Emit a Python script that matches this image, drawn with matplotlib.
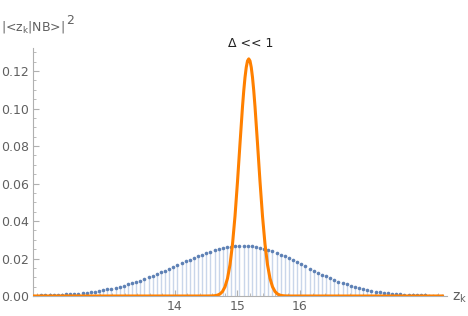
import numpy as np
import matplotlib
matplotlib.use("Agg")
import matplotlib.pyplot as plt
from matplotlib.ticker import MultipleLocator, FixedLocator

plt.rcParams['font.family'] = ['DejaVu Sans']
plt.rcParams['mathtext.default'] = 'regular'

# discrete distribution |<z_k|NB>|^2 (blue stems), z_k evenly spaced
z_first = 11.73
z_step = 0.066
nb_prob = [
    0.00021, 0.00025, 0.00030, 0.00036, 0.00043, 0.00051, 0.00060, 0.00071, 0.00084, 0.00098,
    0.00115, 0.00133, 0.00155, 0.00179, 0.00206, 0.00236, 0.00269, 0.00306, 0.00347, 0.00392,
    0.00441, 0.00494, 0.00552, 0.00614, 0.00681, 0.00751, 0.00826, 0.00906, 0.00989, 0.01076,
    0.01167, 0.01260, 0.01355, 0.01452, 0.01551, 0.01649, 0.01748, 0.01846, 0.01942, 0.02035,
    0.02125, 0.02210, 0.02291, 0.02365, 0.02433, 0.02493, 0.02545, 0.02589, 0.02624, 0.02649,
    0.02664, 0.02670, 0.02664, 0.02646, 0.02616, 0.02574, 0.02520, 0.02456, 0.02383, 0.02300,
    0.02210, 0.02114, 0.02012, 0.01906, 0.01797, 0.01687, 0.01576, 0.01465, 0.01355, 0.01248,
    0.01144, 0.01043, 0.00947, 0.00856, 0.00770, 0.00689, 0.00614, 0.00544, 0.00480, 0.00422,
    0.00369, 0.00321, 0.00278, 0.00240, 0.00205, 0.00175, 0.00149, 0.00126, 0.00106, 0.00089,
    0.00074, 0.00061, 0.00051, 0.00042, 0.00034, 0.00028, 0.00023, 0.00018, 0.00015, 0.00012,
]
z_k = z_first + z_step * np.arange(len(nb_prob))

# narrow distribution (Delta << 1), orange curve
narrow_z = [11.73, 14.50, 14.60, 14.64, 14.68, 14.72, 14.76, 14.80, 14.84, 14.88, 14.92, 14.96,
            15.00, 15.04, 15.08, 15.10, 15.12, 15.14, 15.16, 15.18, 15.20, 15.22, 15.24, 15.26,
            15.28, 15.32, 15.36, 15.40, 15.44, 15.48, 15.52, 15.56, 15.60, 15.64, 15.68,
            15.72, 15.76, 15.86, 18.30]
narrow_p = [0.0, 0.0, 0.00006, 0.00018, 0.00045, 0.00108, 0.00238, 0.00490, 0.00936, 0.01666,
            0.02759, 0.04253, 0.06099, 0.08135, 0.1010, 0.1095, 0.1166, 0.1220, 0.1254, 0.1265,
            0.1254, 0.1220, 0.1166, 0.1095, 0.1010, 0.08135, 0.06099, 0.04253, 0.02759,
            0.01666, 0.00936, 0.00490, 0.00238, 0.00108, 0.00045, 0.00018, 0.00006, 0.0, 0.0]

x_ticks = [14, 15, 16]
y_ticks = [0.00, 0.02, 0.04, 0.06, 0.08, 0.10, 0.12]

axis_col = '#b0b0b0'
text_col = '#606060'
blue = '#5e81b5'
stem_col = '#c9d6ea'
orange = '#ff8000'

fig = plt.figure(figsize=(4.68, 3.16), dpi=100)
ax = fig.add_axes([33 / 468, 20 / 316, 414 / 468, 248 / 316])

ax.vlines(z_k, 0, nb_prob, color=stem_col, lw=1.0, zorder=1)
ax.plot(z_k, nb_prob, 'o', color=blue, ms=2.6, mec='none', zorder=2)
ax.plot(narrow_z, narrow_p, color=orange, lw=2.2, zorder=3, solid_capstyle='butt')

ax.set_xlim(11.73, 18.35)
ax.set_ylim(0, 0.1323)

for s in ['top', 'right']:
    ax.spines[s].set_visible(False)
for s in ['left', 'bottom']:
    ax.spines[s].set_color(axis_col)
    ax.spines[s].set_linewidth(0.8)

ax.xaxis.set_major_locator(FixedLocator(x_ticks))
ax.xaxis.set_minor_locator(MultipleLocator(0.2))
ax.yaxis.set_major_locator(FixedLocator(y_ticks))
ax.yaxis.set_minor_locator(MultipleLocator(0.005))
ax.set_yticklabels(['%.2f' % v for v in y_ticks])
ax.tick_params(which='both', direction='in', color=axis_col, labelcolor=text_col, labelsize=9)
ax.tick_params(which='major', length=4, width=0.8)
ax.tick_params(which='minor', length=2, width=0.6)
ax.tick_params(axis='y', pad=3)
ax.tick_params(axis='x', pad=3)

fig.text(1 / 468, 1 - 27 / 316, '|<z$_k$|NB>|', color=text_col, fontsize=9, va='center', ha='left')
fig.text(66 / 468, 1 - 20 / 316, '2', color=text_col, fontsize=9, va='center', ha='left')
fig.text(452 / 468, 1 - 298 / 316, 'z$_k$', color=text_col, fontsize=10, va='center', ha='left')
ax.text(15.21, 0.1313, 'Δ << 1', color='#222222', fontsize=9, ha='center', va='bottom')

fig.savefig('out.png', dpi=100)
